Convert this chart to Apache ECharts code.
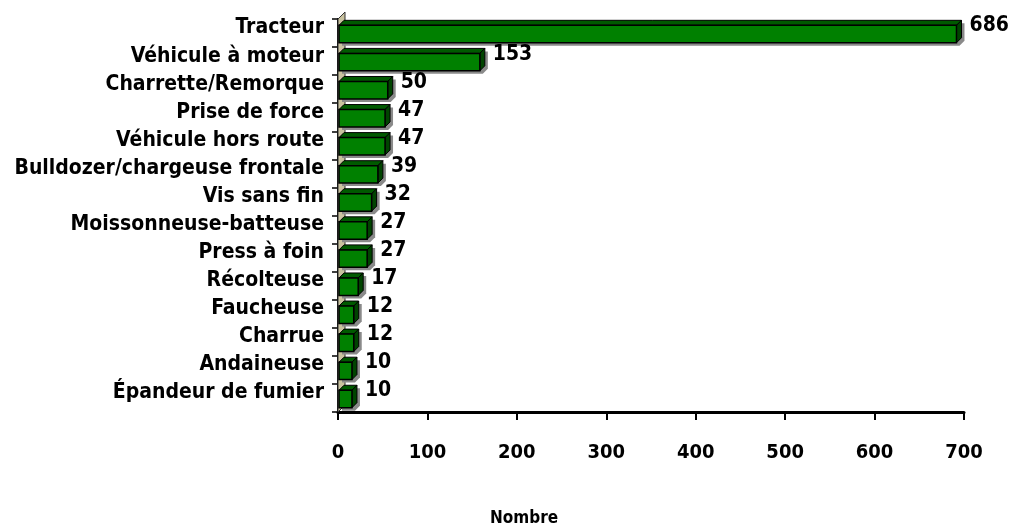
<!DOCTYPE html>
<html>
<head>
<meta charset="utf-8">
<script src="https://cdn.jsdelivr.net/npm/echarts@6/dist/echarts.min.js"></script>
<style>
  html, body { margin: 0; padding: 0; background: #fff; }
  #chart { width: 1021px; height: 529px; }
</style>
</head>
<body>
<div id="chart"></div>
<script>
// categories top to bottom
const categories = [
  'Tracteur', 'Véhicule à moteur', 'Charrette/Remorque', 'Prise de force',
  'Véhicule hors route', 'Bulldozer/chargeuse frontale', 'Vis sans fin',
  'Moissonneuse-batteuse', 'Press à foin', 'Récolteuse', 'Faucheuse',
  'Charrue', 'Andaineuse', 'Épandeur de fumier'
];
const counts = [686, 153, 50, 47, 47, 39, 32, 27, 27, 17, 12, 12, 10, 10];
const xMin = 0, xMax = 700, xStep = 100;
const axisTitle = 'Nombre';

const FONT = '"DejaVu Sans Condensed", "Liberation Sans Narrow", Arial, sans-serif';
const DEPTH = 5;

let chart = echarts.init(document.getElementById('chart'));

// khaki side wall along the category axis
function renderWall(params, api) {
  let band = api.size([0, 1])[1];
  let first = api.coord([0, 0]);
  let last = api.coord([0, categories.length - 1]);
  let x0 = first[0];
  let top = first[1] - band / 2;
  let bot = last[1] + band / 2;
  return {
    type: 'group',
    children: [{
      type: 'polygon',
      shape: { points: [[x0, top], [x0 + DEPTH + 2, top - DEPTH - 2], [x0 + DEPTH + 2, bot - DEPTH - 2], [x0, bot]] },
      style: { fill: '#c9c29f', stroke: '#333', lineWidth: 1 }
    }]
  };
}

// 3D style bars, value measured on the back plane
function renderBar(params, api) {
  let v = api.value(0);
  let idx = api.value(1);
  let start = api.coord([0, idx]);
  let end = api.coord([v, idx]);
  let band = api.size([0, 1])[1];
  let h = band * 0.62;
  let d = DEPTH;
  let x0 = start[0] + 1, x1 = end[0] + d;
  let top = start[1] - h / 2 + 1, bot = start[1] + h / 2 + 1;
  return {
    type: 'group',
    children: [
      { // shadow
        type: 'polygon',
        shape: { points: [[x0 + 3, top - d + 3], [x1 + d + 3, top - d + 3], [x1 + d + 3, bot - d + 3], [x1 + 3, bot + 3], [x0 + 3, bot + 3]] },
        style: { fill: '#8a8a8a' }
      },
      { // top face
        type: 'polygon',
        shape: { points: [[x0, top], [x0 + d, top - d], [x1 + d, top - d], [x1, top]] },
        style: { fill: '#005a00', stroke: '#000', lineWidth: 1 }
      },
      { // side face
        type: 'polygon',
        shape: { points: [[x1, top], [x1 + d, top - d], [x1 + d, bot - d], [x1, bot]] },
        style: { fill: '#004400', stroke: '#000', lineWidth: 1 }
      },
      { // front
        type: 'rect',
        shape: { x: x0, y: top, width: x1 - x0, height: h },
        style: { fill: '#008000', stroke: '#000', lineWidth: 1.5 }
      },
      {
        type: 'text',
        style: {
          text: String(v),
          x: x1 + d + 8,
          y: start[1] - 7,
          verticalAlign: 'middle',
          align: 'left',
          fill: '#000',
          font: 'bold 21px ' + FONT
        }
      }
    ]
  };
}

let option = {
  backgroundColor: '#fff',
  animation: false,
  grid: { left: 338, right: 57, top: 19, bottom: 117 },
  xAxis: {
    type: 'value',
    min: xMin,
    max: xMax,
    interval: xStep,
    splitLine: { show: false },
    axisLine: { show: true, lineStyle: { color: '#000', width: 3 } },
    axisTick: { show: true, length: 8, lineStyle: { color: '#000', width: 2 } },
    axisLabel: {
      margin: 31,
      color: '#000',
      fontFamily: FONT,
      fontWeight: 'bold',
      fontSize: 20
    }
  },
  yAxis: {
    type: 'category',
    inverse: true,
    data: categories,
    axisLine: { show: true, lineStyle: { color: '#000', width: 2 } },
    axisTick: { show: true, length: 6, lineStyle: { color: '#000', width: 1.5 } },
    axisLabel: {
      interval: 0,
      margin: 14,
      color: '#000',
      fontFamily: FONT,
      fontWeight: 'bold',
      fontSize: 21,
      verticalAlign: 'bottom',
      lineHeight: 10
    }
  },
  graphic: [{
    type: 'text',
    left: 490,
    top: 510,
    style: { text: axisTitle, fill: '#000', font: 'bold 17px ' + FONT }
  }],
  series: [
    {
      type: 'custom',
      renderItem: renderWall,
      data: [[0, 0]],
      encode: { x: 0, y: 1 },
      z: 1,
      silent: true
    },
    {
      type: 'custom',
      renderItem: renderBar,
      data: counts.map(function (v, i) { return [v, i]; }),
      encode: { x: 0, y: 1 },
      z: 2
    }
  ]
};

chart.setOption(option);
</script>
</body>
</html>
